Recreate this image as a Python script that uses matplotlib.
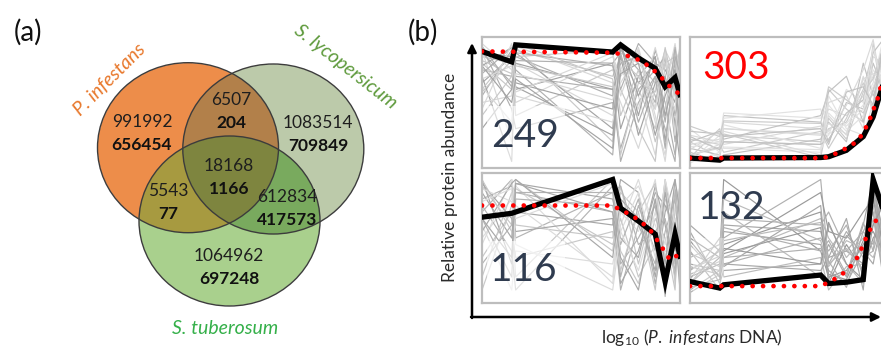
import numpy as np
import matplotlib
matplotlib.use('Agg')
import matplotlib.pyplot as plt
from matplotlib.patches import Ellipse, Rectangle
from matplotlib.colors import to_rgba

plt.rcParams['font.family'] = ['Lato', 'DejaVu Sans']
plt.rcParams['mathtext.fontset'] = 'custom'
plt.rcParams['mathtext.rm'] = 'Lato'
plt.rcParams['mathtext.it'] = 'Lato:italic'

# ---------------- data ----------------
set_names = ['P. infestans', 'S. lycopersicum', 'S. tuberosum']
set_colors = ['#E8782C', '#5E9A3C', '#35B04A']
# regions: P only, L only, T only, P&L, P&T, L&T, P&L&T
region_codes = [4, 2, 1, 6, 5, 3, 7]
region_total = [991992, 1083514, 1064962, 6507, 5543, 612834, 18168]
region_bold = [656454, 709849, 697248, 204, 77, 417573, 1166]
region_colors = ['#EE8D4B', '#BDCBAB', '#A9D18D', '#B3804A', '#A89A40', '#79AA5E', '#7F853F']

cluster_sizes = [249, 303, 116, 132]
cluster_colors = ['#2F3B4F', '#FF0000', '#2F3B4F', '#2F3B4F']

dna_levels = [0.0, 0.15, 0.17, 0.66, 0.70, 0.79, 0.875, 0.925, 0.975, 1.0]
mean_profiles = [
    [0.89, 0.81, 0.94, 0.885, 0.94, 0.84, 0.76, 0.62, 0.69, 0.56],
    [0.076, 0.06, 0.076, 0.08, 0.086, 0.135, 0.24, 0.39, 0.64, 0.88],
    [0.66, 0.69, 0.70, 0.95, 0.73, 0.63, 0.53, 0.165, 0.53, 0.36],
    [0.165, 0.115, 0.14, 0.215, 0.15, 0.16, 0.18, 0.95, 0.72, 0.50],
]
fit_levels = [0.0, 0.66, 0.70, 0.75, 0.80, 0.85, 0.90, 0.95, 1.0]
fit_profiles = [
    [0.89, 0.88, 0.87, 0.85, 0.82, 0.77, 0.70, 0.62, 0.56],
    [0.076, 0.076, 0.085, 0.12, 0.16, 0.21, 0.34, 0.54, 0.85],
    [0.75, 0.75, 0.715, 0.68, 0.63, 0.56, 0.45, 0.33, 0.38],
    [0.13, 0.13, 0.16, 0.20, 0.26, 0.36, 0.54, 0.66, 0.72],
]

proteins_c1 = [
    [0.85, 0.80, 0.90, 0.70, 0.85, 0.60, 0.30, 0.70, 0.90, 0.80],
    [0.75, 0.70, 0.85, 0.55, 0.90, 0.75, 0.50, 0.85, 0.40, 0.60],
    [0.90, 0.20, 0.80, 0.40, 0.75, 0.55, 0.10, 0.60, 0.95, 0.70],
    [0.65, 0.85, 0.60, 0.80, 0.30, 0.70, 0.85, 0.20, 0.80, 0.50],
    [0.80, 0.60, 0.92, 0.20, 0.88, 0.80, 0.65, 0.90, 0.30, 0.85],
    [0.55, 0.90, 0.70, 0.60, 0.05, 0.50, 0.70, 0.50, 0.10, 0.40],
    [0.95, 0.75, 0.50, 0.85, 0.70, 0.90, 0.40, 0.05, 0.70, 0.90],
    [0.70, 0.05, 0.88, 0.30, 0.92, 0.65, 0.80, 0.75, 0.60, 0.20],
    [0.60, 0.88, 0.40, 0.75, 0.60, 0.30, 0.05, 0.80, 0.85, 0.65],
    [0.88, 0.65, 0.75, 0.10, 0.80, 0.85, 0.55, 0.30, 0.05, 0.75],
    [0.50, 0.55, 0.93, 0.65, 0.50, 0.15, 0.60, 0.90, 0.75, 0.30],
    [0.78, 0.92, 0.65, 0.45, 0.95, 0.40, 0.90, 0.65, 0.50, 0.95],
    [0.40, 0.70, 0.85, 0.90, 0.40, 0.75, 0.20, 0.45, 0.90, 0.10],
    [0.92, 0.45, 0.30, 0.50, 0.15, 0.60, 0.75, 0.85, 0.20, 0.55],
    [0.68, 0.78, 0.55, 0.35, 0.65, 0.88, 0.35, 0.10, 0.65, 0.85],
    [0.30, 0.60, 0.80, 0.60, 0.85, 0.25, 0.65, 0.70, 0.35, 0.05],
    [0.82, 0.72, 0.78, 0.62, 0.82, 0.70, 0.45, 0.92, 0.55, 0.45],
    [0.72, 0.92, 0.88, 0.78, 0.60, 0.95, 0.80, 0.35, 0.92, 0.65],
    [0.62, 0.35, 0.72, 0.52, 0.78, 0.45, 0.92, 0.62, 0.45, 0.88],
    [0.88, 0.85, 0.62, 0.25, 0.72, 0.80, 0.25, 0.55, 0.75, 0.35],
    [0.58, 0.82, 0.95, 0.68, 0.10, 0.65, 0.58, 0.80, 0.60, 0.92],
    [0.93, 0.62, 0.82, 0.80, 0.88, 0.35, 0.70, 0.15, 0.85, 0.72],
    [0.45, 0.95, 0.58, 0.88, 0.55, 0.92, 0.45, 0.88, 0.25, 0.62],
    [0.78, 0.50, 0.68, 0.15, 0.95, 0.55, 0.85, 0.40, 0.70, 0.25],
]
proteins_c2 = [
    [0.10, 0.15, 0.35, 0.30, 0.45, 0.40, 0.55, 0.70, 0.85, 0.95],
    [0.20, 0.08, 0.25, 0.20, 0.30, 0.35, 0.60, 0.90, 0.70, 0.80],
    [0.05, 0.25, 0.15, 0.12, 0.55, 0.30, 0.25, 0.50, 0.95, 0.90],
    [0.15, 0.10, 0.40, 0.35, 0.20, 0.50, 0.45, 0.80, 0.60, 0.98],
    [0.25, 0.20, 0.30, 0.25, 0.40, 0.25, 0.70, 0.40, 0.90, 0.70],
    [0.08, 0.30, 0.20, 0.18, 0.60, 0.45, 0.35, 0.95, 0.50, 0.85],
    [0.30, 0.12, 0.38, 0.45, 0.25, 0.60, 0.50, 0.65, 0.98, 0.60],
    [0.12, 0.05, 0.10, 0.22, 0.35, 0.20, 0.80, 0.55, 0.75, 0.92],
    [0.18, 0.22, 0.28, 0.10, 0.50, 0.55, 0.30, 0.85, 0.80, 0.75],
    [0.22, 0.18, 0.12, 0.28, 0.15, 0.38, 0.65, 0.45, 0.95, 0.88],
    [0.06, 0.10, 0.33, 0.15, 0.42, 0.28, 0.40, 0.75, 0.65, 0.97],
    [0.28, 0.26, 0.22, 0.40, 0.58, 0.70, 0.35, 0.60, 0.88, 0.80],
    [0.14, 0.28, 0.18, 0.32, 0.28, 0.48, 0.75, 0.98, 0.55, 0.65],
    [0.10, 0.16, 0.26, 0.08, 0.38, 0.22, 0.58, 0.68, 0.92, 0.99],
    [0.16, 0.20, 0.42, 0.38, 0.48, 0.32, 0.45, 0.62, 0.78, 0.72],
    [0.24, 0.14, 0.20, 0.18, 0.22, 0.42, 0.52, 0.88, 0.98, 0.70],
    [0.09, 0.18, 0.30, 0.26, 0.34, 0.26, 0.68, 0.72, 0.68, 0.95],
    [0.32, 0.24, 0.36, 0.34, 0.62, 0.52, 0.42, 0.58, 0.85, 0.90],
    [0.04, 0.12, 0.16, 0.14, 0.26, 0.34, 0.48, 0.92, 0.62, 0.78],
    [0.20, 0.28, 0.24, 0.30, 0.18, 0.58, 0.62, 0.48, 0.95, 0.99],
]
proteins_c3 = [
    [0.90, 0.60, 0.95, 0.40, 0.90, 0.30, 0.80, 0.10, 0.85, 0.50],
    [0.70, 0.95, 0.50, 0.85, 0.20, 0.75, 0.40, 0.90, 0.30, 0.70],
    [0.50, 0.80, 0.90, 0.15, 0.70, 0.55, 0.95, 0.35, 0.60, 0.20],
    [0.95, 0.30, 0.70, 0.60, 0.95, 0.85, 0.20, 0.70, 0.95, 0.40],
    [0.35, 0.70, 0.20, 0.95, 0.40, 0.15, 0.65, 0.50, 0.10, 0.85],
    [0.80, 0.90, 0.85, 0.70, 0.10, 0.60, 0.30, 0.95, 0.50, 0.30],
    [0.60, 0.10, 0.40, 0.30, 0.60, 0.95, 0.50, 0.25, 0.75, 0.60],
    [0.85, 0.50, 0.92, 0.80, 0.50, 0.35, 0.90, 0.60, 0.20, 0.95],
    [0.20, 0.85, 0.60, 0.50, 0.85, 0.70, 0.10, 0.80, 0.65, 0.15],
    [0.75, 0.40, 0.10, 0.90, 0.30, 0.50, 0.75, 0.05, 0.90, 0.55],
    [0.45, 0.95, 0.75, 0.20, 0.75, 0.90, 0.60, 0.40, 0.35, 0.75],
    [0.92, 0.65, 0.55, 0.65, 0.15, 0.40, 0.85, 0.75, 0.55, 0.10],
    [0.10, 0.75, 0.88, 0.45, 0.65, 0.20, 0.45, 0.92, 0.15, 0.65],
    [0.65, 0.20, 0.80, 0.75, 0.45, 0.80, 0.15, 0.55, 0.80, 0.35],
    [0.88, 0.78, 0.65, 0.92, 0.55, 0.25, 0.70, 0.45, 0.90, 0.80],
    [0.55, 0.92, 0.95, 0.35, 0.80, 0.65, 0.25, 0.85, 0.40, 0.50],
    [0.95, 0.55, 0.35, 0.55, 0.25, 0.70, 0.92, 0.20, 0.70, 0.90],
    [0.30, 0.60, 0.85, 0.85, 0.90, 0.45, 0.55, 0.65, 0.25, 0.45],
    [0.78, 0.88, 0.45, 0.10, 0.55, 0.85, 0.35, 0.95, 0.60, 0.25],
    [0.65, 0.35, 0.92, 0.70, 0.35, 0.10, 0.80, 0.30, 0.95, 0.70],
]
proteins_c4 = [
    [0.30, 0.25, 0.60, 0.55, 0.35, 0.40, 0.30, 0.95, 0.40, 0.30],
    [0.15, 0.35, 0.95, 0.40, 0.20, 0.25, 0.45, 0.60, 0.80, 0.50],
    [0.45, 0.20, 0.35, 0.65, 0.50, 0.30, 0.15, 0.85, 0.20, 0.60],
    [0.25, 0.40, 0.50, 0.95, 0.30, 0.55, 0.35, 0.40, 0.95, 0.40],
    [0.55, 0.15, 0.25, 0.30, 0.45, 0.20, 0.60, 0.95, 0.35, 0.70],
    [0.20, 0.30, 0.45, 0.70, 0.15, 0.45, 0.25, 0.50, 0.60, 0.25],
    [0.35, 0.45, 0.70, 0.20, 0.60, 0.35, 0.50, 0.70, 0.30, 0.80],
    [0.10, 0.25, 0.30, 0.50, 0.40, 0.60, 0.20, 0.95, 0.50, 0.35],
    [0.40, 0.10, 0.55, 0.45, 0.25, 0.15, 0.40, 0.30, 0.70, 0.55],
    [0.50, 0.35, 0.40, 0.85, 0.55, 0.50, 0.70, 0.80, 0.45, 0.20],
    [0.18, 0.50, 0.20, 0.35, 0.10, 0.28, 0.30, 0.65, 0.25, 0.65],
    [0.28, 0.22, 0.65, 0.60, 0.70, 0.40, 0.55, 0.45, 0.85, 0.45],
    [0.60, 0.40, 0.30, 0.25, 0.35, 0.65, 0.10, 0.90, 0.55, 0.30],
    [0.12, 0.18, 0.38, 0.58, 0.22, 0.18, 0.48, 0.55, 0.40, 0.60],
    [0.22, 0.32, 0.48, 0.62, 0.30, 0.42, 0.25, 0.75, 0.35, 0.50],
    [0.38, 0.28, 0.58, 0.40, 0.48, 0.22, 0.62, 0.40, 0.65, 0.30],
    [0.15, 0.42, 0.28, 0.75, 0.18, 0.52, 0.38, 0.88, 0.30, 0.75],
    [0.48, 0.20, 0.42, 0.30, 0.62, 0.30, 0.18, 0.60, 0.75, 0.40],
    [0.26, 0.36, 0.80, 0.48, 0.28, 0.48, 0.42, 0.35, 0.55, 0.85],
    [0.08, 0.22, 0.35, 0.42, 0.32, 0.12, 0.55, 0.70, 0.20, 0.55],
]
protein_sets = [proteins_c1, proteins_c2, proteins_c3, proteins_c4]
grey_shades = [
    ['#C8C8C8', '#B0B0B0', '#D8D8D8', '#A4A4A4'],
    ['#DADADA', '#CCCCCC', '#E2E2E2', '#C2C2C2'],
    ['#C8C8C8', '#B4B4B4', '#DCDCDC', '#A8A8A8'],
    ['#A8A8A8', '#9A9A9A', '#BBBBBB', '#B0B0B0'],
]

# ---------------- figure ----------------
W, H = 881, 349
fig = plt.figure(figsize=(W / 100, H / 100), dpi=100)
bg = fig.add_axes([0, 0, 1, 1])
bg.set_xlim(0, W)
bg.set_ylim(H, 0)
bg.axis('off')

# Venn diagram (pixel-based layout)
centers = [(188.0, 147.7), (273.3, 149.0), (229.5, 221.0)]
rx, ry = 90.5, 85.0
xs = np.linspace(0, 400, 1600)
ys = np.linspace(0, H, 1396)
XX, YY = np.meshgrid(xs, ys)
code = np.zeros(XX.shape, dtype=int)
for k, (cx, cy) in enumerate(centers):
    inside = ((XX - cx) / rx) ** 2 + ((YY - cy) / ry) ** 2 <= 1
    code += inside.astype(int) * (4 >> k)
img = np.ones(XX.shape + (4,))
img[..., 3] = 0
for c, col in zip(region_codes, region_colors):
    img[code == c] = to_rgba(col)
bg.imshow(img, extent=(0, 400, H, 0), interpolation='antialiased', zorder=1, aspect='auto')
for (cx, cy) in centers:
    bg.add_patch(Ellipse((cx, cy), 2 * rx, 2 * ry, fill=False, ec='#3C3C3C', lw=1.0, zorder=2))

label_pos = [(142, 122), (318, 123), (229, 256), (231, 100), (168, 191), (287, 197), (229, 166)]
for (lx, ly), tot, bold in zip(label_pos, region_total, region_bold):
    bg.text(lx, ly, f'{tot}', ha='center', va='center', fontsize=12.5, color='#1E1E1E', zorder=3)
    bg.text(lx, ly + 23, f'{bold}', ha='center', va='center', fontsize=12.5, fontweight='bold',
            color='#111111', zorder=3)

bg.text(110, 80, set_names[0], rotation=45, ha='center', va='center', fontsize=14,
        style='italic', color=set_colors[0], zorder=3)
bg.text(345, 67, set_names[1], rotation=-38, ha='center', va='center', fontsize=14,
        style='italic', color=set_colors[1], zorder=3)
bg.text(225, 328, set_names[2], ha='center', va='center', fontsize=14,
        style='italic', color=set_colors[2], zorder=3)

bg.text(28, 32, '(a)', ha='center', va='center', fontsize=20, color='#111111')
bg.text(423, 32, '(b)', ha='center', va='center', fontsize=20, color='#111111')

# axes arrows and labels for panel (b)
bg.annotate('', xy=(472, 43), xytext=(472, 318),
            arrowprops=dict(arrowstyle='-|>', lw=1.8, color='black', mutation_scale=13,
                            shrinkA=0, shrinkB=0))
bg.annotate('', xy=(881, 317), xytext=(471, 317),
            arrowprops=dict(arrowstyle='-|>', lw=1.8, color='black', mutation_scale=13,
                            shrinkA=0, shrinkB=0))
bg.text(450, 177, 'Relative protein abundance', rotation=90, ha='center', va='center',
        fontsize=12.5, color='#2A2A2A')
bg.text(692, 338, r'log$_{10}$ ($\mathit{P.\ infestans}$ DNA)', ha='center', va='center',
        fontsize=12.5, color='#2A2A2A')

# four cluster panels
pw, ph_top, ph_bot = 198 / W, 131 / H, 130 / H
panel_rects = [
    [482 / W, (H - 168) / H, pw, ph_top],
    [690 / W, (H - 168) / H, pw, ph_top],
    [482 / W, (H - 303) / H, pw, ph_bot],
    [690 / W, (H - 303) / H, pw, ph_bot],
]
num_pos = [(0.217, 0.244), (0.232, 0.763), (0.212, 0.254), (0.212, 0.73)]
veil_rects = [(0.025, 0.0, 0.395, 0.47, 0.62), None, (0.025, 0.02, 0.395, 0.46, 0.62),
              (0.015, 0.02, 0.155, 0.48, 0.35)]

for i in range(4):
    ax = fig.add_axes(panel_rects[i])
    ax.set_xlim(0, 1)
    ax.set_ylim(0, 1)
    ax.set_xticks([])
    ax.set_yticks([])
    ax.set_facecolor('white')
    for sp in ax.spines.values():
        sp.set_color('#BDBDBD')
        sp.set_linewidth(1.6)
    for j, prof in enumerate(protein_sets[i]):
        ax.plot(dna_levels, prof, color=grey_shades[i][j % 4], lw=0.85, zorder=1)
    v = veil_rects[i]
    if v is not None:
        ax.add_patch(Rectangle((v[0], v[1]), v[2], v[3], transform=ax.transAxes,
                               facecolor='white', alpha=v[4], edgecolor='none', zorder=2))
    ax.plot(dna_levels, mean_profiles[i], color='black', lw=3.8, solid_joinstyle='miter',
            zorder=3)
    ax.plot(fit_levels, fit_profiles[i], color='#FF0000', lw=3.4,
            linestyle=(0, (0.01, 2.2)), dash_capstyle='round', zorder=4)
    ax.text(num_pos[i][0], num_pos[i][1], f'{cluster_sizes[i]}', transform=ax.transAxes,
            ha='center', va='center', fontsize=28, color=cluster_colors[i], zorder=5)

fig.savefig('out.png', dpi=100)
